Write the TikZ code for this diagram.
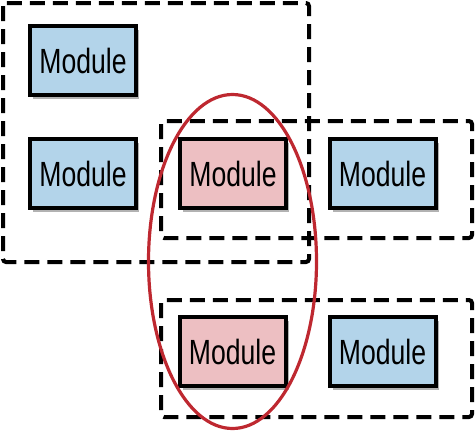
\documentclass[tikz,border=0pt]{standalone}
\usepackage{fontspec}
\setmainfont[FakeStretch=0.76]{Liberation Sans}
\usetikzlibrary{shadows}
\definecolor{modblue}{HTML}{B3D4EA}
\definecolor{modpink}{HTML}{EDBFC2}
\definecolor{selred}{HTML}{BE2830}
\tikzset{mod/.style={draw,line width=4pt,minimum width=106pt,minimum height=69pt,inner sep=0pt,font=\fontsize{35}{40}\selectfont,drop shadow={shadow xshift=3pt,shadow yshift=-4pt,fill=black,opacity=.3}},
bm/.style={mod,fill=modblue},pm/.style={mod,fill=modpink},
grp/.style={draw,line width=4pt,dash pattern=on 15pt off 8pt,rounded corners=3pt},
sel/.style={draw=selred,line width=3.2pt}}

\begin{document}
\begin{tikzpicture}[x=1pt,y=-1pt]
\useasboundingbox(0,0)rectangle(475,432);
\node[bm](m1)at(83,60.5){Module};\node[bm](m2)at(83,173.5){Module};
\node[pm](m3)at(233,173.5){Module};\node[bm](m4)at(382.5,173.5){Module};
\node[pm](m5)at(232.5,351.5){Module};\node[bm](m6)at(382.5,351.5){Module};
\draw[grp](3,3)rectangle(309,262);
\draw[grp](161,121)rectangle(472,238);
\draw[grp](161,300)rectangle(472,417);
\draw[sel](232.5,261.5)ellipse(84pt and 167pt);
\end{tikzpicture}
\end{document}
